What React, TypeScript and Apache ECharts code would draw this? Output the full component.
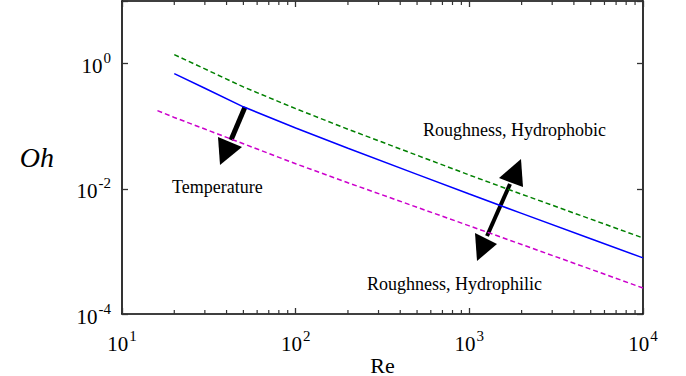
import React, { useEffect, useRef } from "react";
import * as echarts from "echarts";

const reMain = [20, 30, 50, 100, 200, 500, 1000, 2000, 5000, 10000];
const ohBase = [0.69, 0.404, 0.204, 0.0937, 0.0445, 0.017, 0.00824, 0.00405, 0.00159, 0.000787];
const ohHydrophobic = [1.39, 0.822, 0.424, 0.1905, 0.0895, 0.0343, 0.0166, 0.0082, 0.00328, 0.00164];
const reHydrophilic = [16, 20, 30, 50, 100, 200, 500, 1000, 2000, 5000, 10000];
const ohHydrophilic = [0.177, 0.138, 0.09, 0.0524, 0.0251, 0.0125, 0.00507, 0.00256, 0.00129, 0.000519, 0.00026];
const minorDecades = [10, 100, 1000];
const minorMultipliers = [2, 3, 4, 5, 6, 7, 8, 9];

const FONT = "Liberation Serif";

const powLabel = (v: number, onlyEven: boolean) => {
  const e = Math.round(Math.log10(v));
  if (onlyEven && e % 2 !== 0) return "";
  return "{b|10}{s|" + e + "}";
};

const richLabel = {
  b: { fontSize: 21, fontFamily: FONT, color: "#000", lineHeight: 26, verticalAlign: "bottom" },
  s: { fontSize: 15, fontFamily: FONT, color: "#000", lineHeight: 26, verticalAlign: "top", padding: [0, 0, 0, 1] },
};

export default function App() {
  const ref = useRef<HTMLDivElement>(null);
  useEffect(() => {
    const chart = echarts.init(ref.current!, undefined, { renderer: "svg" });
    const axisLine = { show: true, lineStyle: { color: "#000", width: 1.6 } };
    const tick = { show: true, inside: true, length: 6, lineStyle: { color: "#333", width: 1.3 } };
    chart.setOption({
      animation: false,
      backgroundColor: "#fff",
      grid: { left: 122, right: 43, top: 1, bottom: 62, containLabel: false, outerBoundsMode: "none" },
      xAxis: [
        {
          type: "log",
          logBase: 10,
          min: 10,
          max: 10000,
          axisLine,
          axisTick: tick,
          splitLine: { show: false },
          axisLabel: { margin: 14, formatter: (v: number) => powLabel(v, false), rich: richLabel },
          name: "Re",
          nameLocation: "middle",
          nameGap: 40,
          nameMoveOverlap: false,
          nameTextStyle: { fontSize: 22, fontFamily: FONT, color: "#000" },
        },
        {
          type: "log",
          logBase: 10,
          min: 10,
          max: 10000,
          position: "top",
          axisLine,
          axisTick: tick,
          splitLine: { show: false },
          axisLabel: { show: false },
        },
      ],
      yAxis: [
        {
          type: "log",
          logBase: 10,
          min: 0.0001,
          max: 10,
          interval: 2,
          axisLine,
          axisTick: tick,
          splitLine: { show: false },
          axisLabel: { margin: 11, formatter: (v: number) => powLabel(v, true), rich: richLabel },
          name: "Oh",
          nameLocation: "middle",
          nameRotate: 0,
          nameGap: 68,
          nameMoveOverlap: false,
          nameTextStyle: { fontSize: 28, fontFamily: FONT, fontStyle: "italic", color: "#000" },
        },
        {
          type: "log",
          logBase: 10,
          min: 0.0001,
          max: 10,
          interval: 2,
          position: "right",
          axisLine,
          axisTick: tick,
          splitLine: { show: false },
          axisLabel: { show: false },
        },
      ],
      series: [
        {
          name: "Hydrophobic",
          type: "line",
          showSymbol: false,
          data: reMain.map((r, i) => [r, ohHydrophobic[i]]),
          lineStyle: { color: "#008000", width: 1.5, type: [5, 3] },
        },
        {
          name: "Base",
          type: "line",
          showSymbol: false,
          data: reMain.map((r, i) => [r, ohBase[i]]),
          lineStyle: { color: "#0000ff", width: 1.5 },
        },
        {
          name: "Hydrophilic",
          type: "line",
          showSymbol: false,
          data: reHydrophilic.map((r, i) => [r, ohHydrophilic[i]]),
          lineStyle: { color: "#cc00cc", width: 1.5, type: [5, 3] },
        },
      ],
    });

    // minor ticks on the x axes, placed through the axis scale
    const toX = (v: number) => {
      const p: any = chart.convertToPixel({ xAxisIndex: 0 }, v);
      return Array.isArray(p) ? p[0] : p;
    };
    const toY = (v: number) => {
      const p: any = chart.convertToPixel({ yAxisIndex: 0 }, v);
      return Array.isArray(p) ? p[1] : p;
    };
    const yBottom = toY(0.0001);
    const yTop = toY(10);
    const minorLines: any[] = [];
    minorDecades.forEach((d) =>
      minorMultipliers.forEach((m) => {
        const x = toX(d * m);
        minorLines.push({ type: "line", silent: true, z: 100, shape: { x1: x, y1: yBottom, x2: x, y2: yBottom - 4 }, style: { stroke: "#333", lineWidth: 1.2 } });
        minorLines.push({ type: "line", silent: true, z: 100, shape: { x1: x, y1: yTop, x2: x, y2: yTop + 4 }, style: { stroke: "#333", lineWidth: 1.2 } });
      })
    );

    chart.setOption({
      graphic: [
        ...minorLines,
        { type: "line", shape: { x1: 245, y1: 107, x2: 231, y2: 140 }, style: { stroke: "#000", lineWidth: 5 } },
        { type: "polygon", shape: { points: [[218, 137], [242, 147], [220, 165]] }, style: { fill: "#000" } },
        { type: "line", shape: { x1: 510, y1: 184, x2: 487, y2: 236 }, style: { stroke: "#000", lineWidth: 4 } },
        { type: "polygon", shape: { points: [[499, 178], [523, 187], [521, 159]] }, style: { fill: "#000" } },
        { type: "polygon", shape: { points: [[475, 233], [497, 244], [477, 261]] }, style: { fill: "#000" } },
        { type: "text", x: 172, y: 187, style: { text: "Temperature", fontSize: 18, fontFamily: FONT, fill: "#000", verticalAlign: "middle" } },
        { type: "text", x: 423, y: 130, style: { text: "Roughness, Hydrophobic", fontSize: 18, fontFamily: FONT, fill: "#000", verticalAlign: "middle" } },
        { type: "text", x: 367, y: 284, style: { text: "Roughness, Hydrophilic", fontSize: 18, fontFamily: FONT, fill: "#000", verticalAlign: "middle" } },
      ],
    });
    return () => chart.dispose();
  }, []);
  return <div ref={ref} style={{ position: "fixed", left: 0, top: 0, width: 686, height: 376 }} />;
}
